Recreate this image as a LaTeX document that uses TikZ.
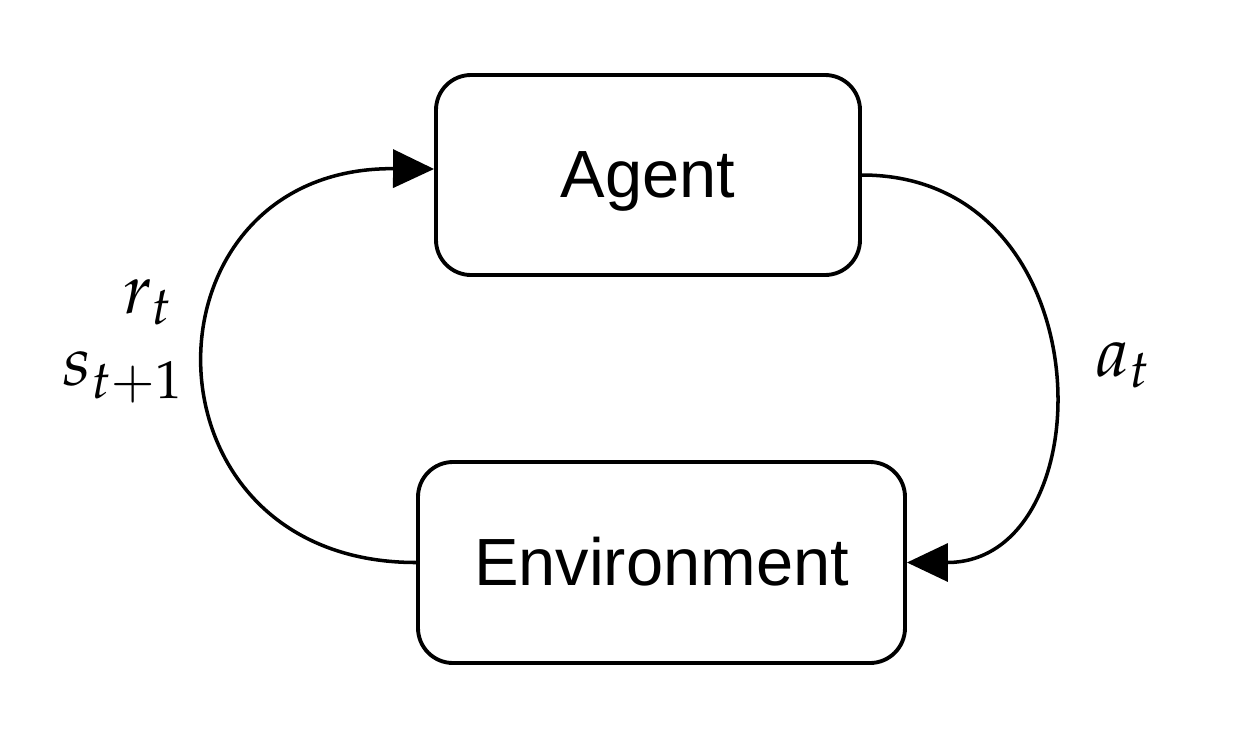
\documentclass[tikz,border=0pt]{standalone}
\usepackage{mathpazo}
\usepackage[no-math]{fontspec}
\setmainfont{Liberation Sans}
\usetikzlibrary{arrows.meta}

\tikzset{
    block/.style={draw, line width=2.2pt, rounded corners=0.7cm,
        font=\fontsize{38}{42}\selectfont, text height=26pt, text depth=0pt},
    flow/.style={line width=2pt, -{Triangle[length=0.82cm,width=0.76cm]}},
    lab/.style={font=\fontsize{40}{44}\selectfont}
}

\begin{document}
\begin{tikzpicture}
    \useasboundingbox (0,0) rectangle (24.96,-15);

    \node[block, minimum width=8.48cm, minimum height=4cm] (agent) at (12.96,-3.5) {Agent};
    \node[block, minimum width=9.74cm, minimum height=4.02cm] (env) at (13.23,-11.25) {Environment};

    \draw[flow] (env.west) .. controls +(-5.7,0) and +(-6.0,0.05) .. ([yshift=0.12cm]agent.west);
    \draw[flow] (agent.east) .. controls +(4.9,0) and +(4.0,0) .. (env.east);

    \node[lab] (rew) at (2.95,-6.05) {$r_t$};
    \node[lab] (sta) at (2.45,-7.55) {$s_{t+1}$};
    \node[lab] (act) at (22.45,-7.3) {$a_t$};
\end{tikzpicture}
\end{document}
